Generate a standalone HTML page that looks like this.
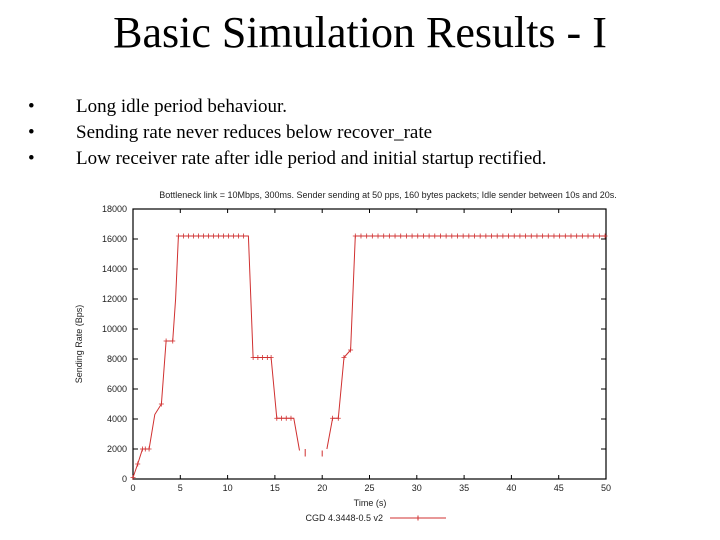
<!DOCTYPE html>
<html><head><meta charset="utf-8"><style>
body{margin:0;background:#fff;width:720px;height:540px;overflow:hidden;position:relative;font-family:"Liberation Serif",serif}
h1{position:absolute;top:7px;left:0;width:720px;text-align:center;margin:0;font-weight:normal;font-size:44px;color:#000}
ul{position:absolute;top:94px;left:28px;margin:0;padding:0;list-style:none;font-size:19px;line-height:26px}
li span{display:inline-block;width:48px}
svg{position:absolute;left:0;top:0}
svg text{font-family:"Liberation Sans",sans-serif;font-size:9px;fill:#222}
</style></head><body>
<h1>Basic Simulation Results - I</h1>
<ul>
<li><span>•</span>Long idle period behaviour.</li>
<li><span>•</span>Sending rate never reduces below recover_rate</li>
<li><span>•</span>Low receiver rate after idle period and initial startup rectified.</li>
</ul>
<svg id="chart" width="720" height="540"></svg>
<script>
const xTicks=[0,5,10,15,20,25,30,35,40,45,50];
const yTicks=[0,2000,4000,6000,8000,10000,12000,14000,16000,18000];
const seriesT=[0,0.5,1,1.3,1.7,2.3,3,3.5,4.2,4.5,4.8,12.2,12.7,14.6,15.2,17,17.6,null,18.2,18.2,null,20,20,null,20.5,21.1,21.7,22.3,23,23.5,50];
const seriesV=[100,1000,2000,2000,2000,4300,5000,9200,9200,12000,16200,16200,8100,8100,4050,4050,1900,null,2000,1500,null,1900,1500,null,2000,4050,4050,8100,8600,16200,16200];
const markT=[0,0.5,1,1.3,1.7,3,3.5,4.2,12.7,13.2,13.7,14.2,14.6,15.2,15.7,16.2,16.7,21.1,21.7,22.3,23];
const markV=[100,1000,2000,2000,2000,5000,9200,9200,8100,8100,8100,8100,8100,4050,4050,4050,4050,4050,4050,8100,8600];
const L=133,R=606,T=209,B=479;
const X=t=>L+t/50*(R-L), Y=v=>B-v/18000*(B-T);
const svg=document.getElementById('chart');const NS='http://www.w3.org/2000/svg';
function mk(tag,a,txt){const e=document.createElementNS(NS,tag);for(const k in a)e.setAttribute(k,a[k]);if(txt!=null)e.textContent=txt;svg.appendChild(e);return e;}
let e=mk('rect',{x:L,y:T,width:R-L,height:B-T,fill:'none',stroke:'#000','stroke-width':1.2});


xTicks.forEach(t=>{mk('line',{x1:X(t),x2:X(t),y1:B,y2:B-4,stroke:'#000'});mk('line',{x1:X(t),x2:X(t),y1:T,y2:T+4,stroke:'#000'});
 e=mk('text',{x:X(t),y:B+12,'text-anchor':'middle'},t);
 
 });
yTicks.forEach(v=>{mk('line',{x1:L,x2:L+5,y1:Y(v),y2:Y(v),stroke:'#000'});mk('line',{x1:R,x2:R-5,y1:Y(v),y2:Y(v),stroke:'#000'});
 e=mk('text',{x:L-6,y:Y(v)+3,'text-anchor':'end'},v);
 
 });
e=mk('text',{x:388,y:198,'text-anchor':'middle'},'Bottleneck link = 10Mbps, 300ms. Sender sending at 50 pps, 160 bytes packets; Idle sender between 10s and 20s.');


e=mk('text',{x:370,y:506,'text-anchor':'middle'},'Time (s)');


e=mk('text',{x:82,y:344,'text-anchor':'middle',transform:'rotate(-90 82 344)'},'Sending Rate (Bps)');


let d='',pen=false;
seriesT.forEach((t,i)=>{if(t===null){pen=false;return;}d+=(pen?'L':'M')+X(t).toFixed(1)+' '+Y(seriesV[i]).toFixed(1);pen=true;});
e=mk('path',{d:d,fill:'none',stroke:'#d03030','stroke-width':1});


const allT=markT.slice(),allV=markV.slice();
for(let t=4.8;t<=12.21;t+=0.53){allT.push(t);allV.push(16200);}
for(let t=23.5;t<=50.01;t+=0.6){allT.push(t);allV.push(16200);}
allT.forEach((t,i)=>{const x=X(t),y=Y(allV[i]);
 e=mk('path',{d:`M${x-2.5} ${y}H${x+2.5}M${x} ${y-2.5}V${y+2.5}`,stroke:'#d03030','stroke-width':0.8});
 
 });
e=mk('text',{x:383,y:521,'text-anchor':'end'},'CGD 4.3448-0.5 v2');


e=mk('path',{d:'M390 518H446M418 515.5V520.5',stroke:'#d03030','stroke-width':1});


</script>
</body></html>
